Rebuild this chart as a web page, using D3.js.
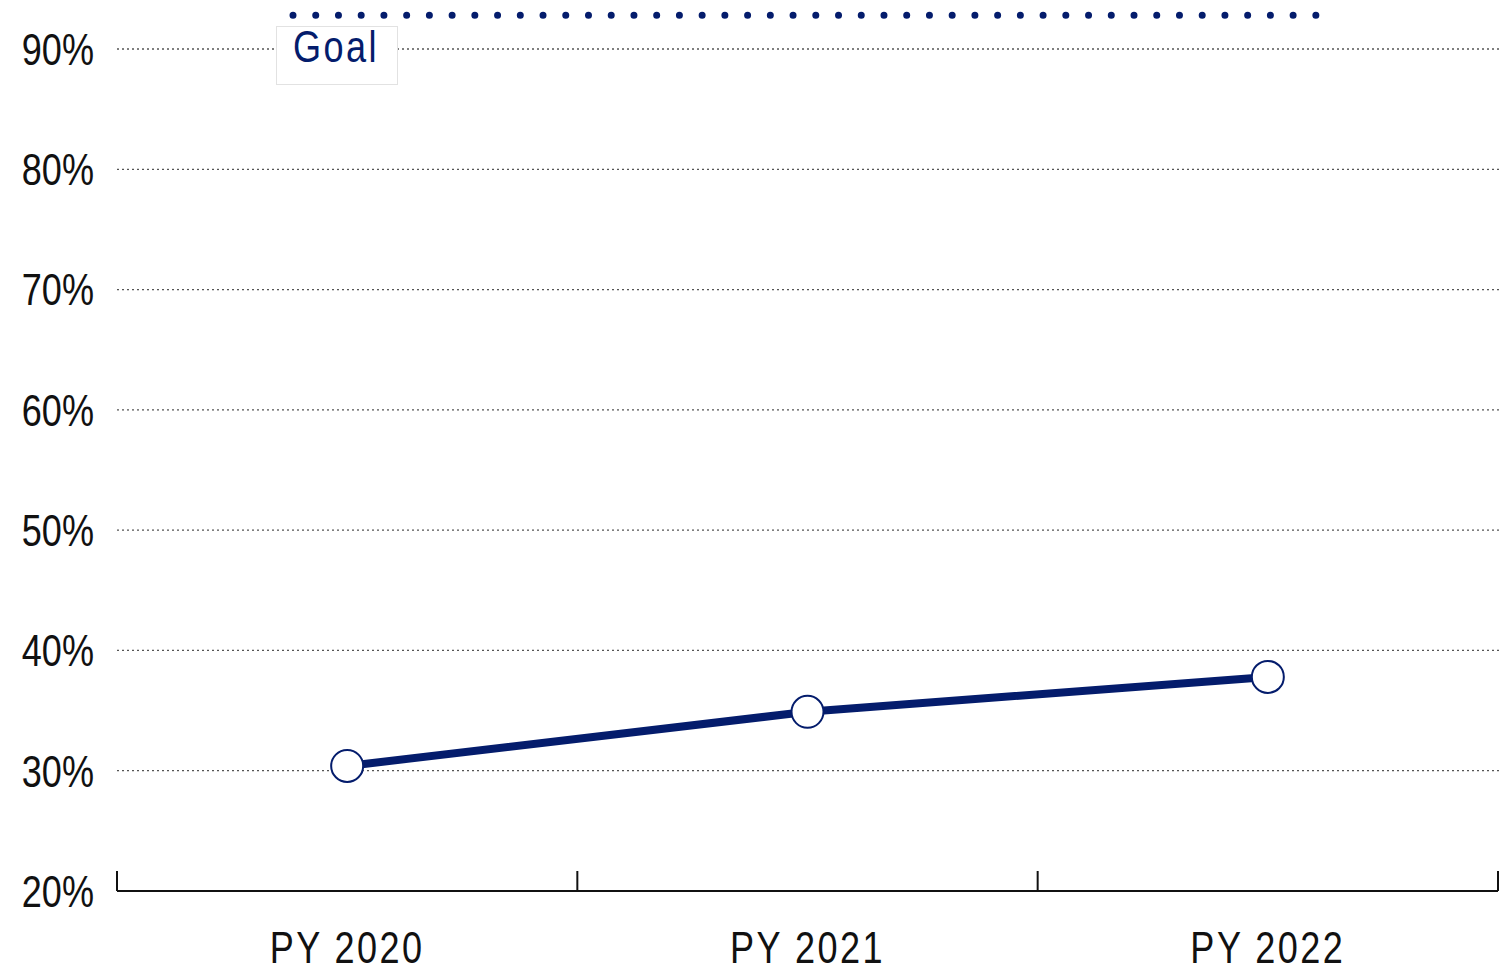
<!DOCTYPE html>
<html>
<head>
<meta charset="utf-8">
<script src="https://cdn.jsdelivr.net/npm/d3@7"></script>
<style>
  body { margin: 0; background: #fff; }
  svg text { font-family: "Liberation Sans", Arial, sans-serif; }
</style>
</head>
<body>
<svg id="chart" width="1502" height="972"></svg>
<script>
const years = ['PY 2020', 'PY 2021', 'PY 2022'];
const rates = [30.4, 34.9, 37.8];
const goalValue = 92.8;
const yTicks = [20, 30, 40, 50, 60, 70, 80, 90];

const navy = '#041c6c';
const squeeze = 0.82; // narrow look for the labels

const svg = d3.select('#chart'),
    width = +svg.attr('width'),
    height = +svg.attr('height');

const margin = {left: 117, right: 4, top: 49, bottom: 81};

const x = d3.scaleBand()
  .domain(years)
  .range([margin.left, width - margin.right])
  .paddingInner(0).paddingOuter(0);

const y = d3.scaleLinear()
  .domain([20, 90])
  .range([height - margin.bottom, margin.top]);

// dotted gridlines
svg.append('g')
  .selectAll('line')
  .data(yTicks.filter(d => d > 20))
  .enter().append('line')
    .attr('x1', margin.left)
    .attr('x2', width)
    .attr('y1', d => y(d))
    .attr('y2', d => y(d))
    .attr('stroke', '#555')
    .attr('stroke-width', 1.3)
    .attr('stroke-dasharray', '2 3');

// y labels
svg.append('g')
  .selectAll('text')
  .data(yTicks)
  .enter().append('text')
    .attr('transform', d => `translate(94,${y(d)}) scale(${squeeze},1)`)
    .attr('dy', '0.36em')
    .attr('text-anchor', 'end')
    .style('font-size', '44px')
    .style('fill', '#111')
    .text(d => d + '%');

// x axis
const xAxis = d3.axisBottom(x).tickSize(0).tickPadding(0);
const gx = svg.append('g')
  .attr('transform', `translate(0,${y(20)})`)
  .call(xAxis);
gx.select('.domain').remove();
gx.selectAll('text')
  .attr('y', 0)
  .attr('dy', 0)
  .attr('transform', `translate(0,72) scale(${squeeze},1)`)
  .style('font-size', '44px')
  .style('letter-spacing', '3px')
  .style('font-family', '"Liberation Sans", Arial, sans-serif')
  .attr('fill', '#111');

svg.append('line')
  .attr('x1', margin.left).attr('x2', width - margin.right)
  .attr('y1', y(20)).attr('y2', y(20))
  .attr('stroke', '#111').attr('stroke-width', 2);

const edges = years.map(d => x(d)).concat([x(years[years.length - 1]) + x.bandwidth()]);
svg.append('g')
  .selectAll('line')
  .data(edges)
  .enter().append('line')
    .attr('x1', d => d).attr('x2', d => d)
    .attr('y1', y(20)).attr('y2', y(20) - 20)
    .attr('stroke', '#111').attr('stroke-width', 2);

// goal line
const goalX0 = 293, goalX1 = 1316;
svg.append('line')
  .attr('x1', goalX0).attr('x2', goalX1)
  .attr('y1', y(goalValue)).attr('y2', y(goalValue))
  .attr('stroke', navy)
  .attr('stroke-width', 7)
  .attr('stroke-linecap', 'round')
  .attr('stroke-dasharray', '0 22.73');

// goal label
svg.append('rect')
  .attr('x', 276.5).attr('y', 26.5)
  .attr('width', 121).attr('height', 58)
  .attr('fill', '#fff')
  .attr('stroke', '#e2e2e2');
svg.append('text')
  .attr('transform', `translate(336,62) scale(${squeeze},1)`)
  .attr('text-anchor', 'middle')
  .style('font-size', '44px')
  .style('letter-spacing', '3px')
  .style('fill', navy)
  .text('Goal');

// series line
const pts = years.map((d, i) => ({year: d, value: rates[i]}));
const line = d3.line()
  .x(d => x(d.year) + x.bandwidth() / 2)
  .y(d => y(d.value));

svg.append('path')
  .datum(pts)
  .attr('d', line)
  .attr('fill', 'none')
  .attr('stroke', navy)
  .attr('stroke-width', 8);

svg.append('g')
  .selectAll('circle')
  .data(pts)
  .enter().append('circle')
    .attr('cx', d => x(d.year) + x.bandwidth() / 2)
    .attr('cy', d => y(d.value))
    .attr('r', 16)
    .attr('fill', '#fff')
    .attr('stroke', navy)
    .attr('stroke-width', 2);
</script>
</body>
</html>
